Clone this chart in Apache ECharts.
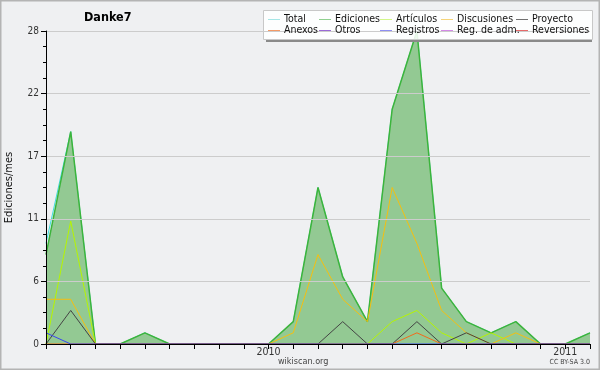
<!DOCTYPE html>
<html><head><meta charset="utf-8">
<script src="https://cdn.jsdelivr.net/npm/echarts@6/dist/echarts.min.js"></script>
<style>html,body{margin:0;padding:0;background:#eff0f2}#c{width:600px;height:370px}</style>
</head><body><div id="c"></div>
<script>
const months = ['2009-04','2009-05','2009-06','2009-07','2009-08','2009-09','2009-10','2009-11','2009-12',
  '2010-01','2010-02','2010-03','2010-04','2010-05','2010-06','2010-07','2010-08','2010-09','2010-10','2010-11','2010-12',
  '2011-01','2011-02'];
const total       = [9,19,0,0,1,0,0,0,0,0,2,14,6,2,21,28,5,2,1,2,0,0,1];
const ediciones   = [8,19,0,0,1,0,0,0,0,0,2,14,6,2,21,28,5,2,1,2,0,0,1];
const articulos   = [0,11,0,0,0,0,0,0,0,0,0,0,0,0,2,3,1,0,1,0,0,0,0];
const discusiones = [4,4,0,0,0,0,0,0,0,0,1,8,4,2,14,9,3,1,0,1,0,0,0];
const proyecto    = [0,3,0,0,0,0,0,0,0,0,0,0,2,0,0,2,0,1,0,0,0,0,0];
const anexos      = [0,0,0,0,0,0,0,0,0,0,0,0,0,0,0,1,0,0,0,0,0,0,0];
const otros       = [];
const registros   = [1,0,0,0,0,0,0,0,0,0,0,0,0,0,0,0,0,0,0,0,0,0,0];
const regAdm      = [];
const reversiones = [];
const yTicks = [0,6,11,17,22,28];

const F = "'DejaVu Sans Condensed', 'DejaVu Sans'";
const names = ['Total','Ediciones','Artículos','Discusiones','Proyecto','Anexos','Otros','Registros','Reg. de adm.','Reversiones'];
const lineColors = ['#3ddede','#3cb43c','#b6f500','#f5bf10','#444444','#f26a1b','#7a35c8','#3a44f0','#c24ee0','#e02a2a'];
const legendColors = ['#a6e6e6','#8fd08f','#d2f68a','#f5d47a','#707070','#f39a66','#9a6ad6','#8e8ef2','#d38ae6','#e66a6a'];
const datas = [total,ediciones,articulos,discusiones,proyecto,anexos,otros,registros,regAdm,reversiones];

const series = names.map((n,i)=>{
  const s = {name:n,type:'line',data:datas[i],symbol:'none',silent:true,
    lineStyle:{color:lineColors[i],width:1},itemStyle:{color:lineColors[i]},z:(i===0?1:(i===1?2:3))};
  if(i===1){ s.areaStyle={color:'#93c993',opacity:1}; s.lineStyle.width=1.5; }
  return s;
});

const cols = [[0,5],[1,6],[2,7],[3,8],[4,9]];
const colLeft = [268,319,380,441,516];
const legends = cols.map((c,k)=>({
  orient:'vertical', left:colLeft[k], top:14, padding:0, itemGap:0,
  itemWidth:12, itemHeight:1, icon:'rect', selectedMode:false, z:20,
  textStyle:{fontFamily:F,fontSize:10.5,color:'#111',lineHeight:10,padding:[0,0,0,-1]},
  data:c.map(i=>({name:names[i],itemStyle:{color:legendColors[i]}}))
}));

const chart = echarts.init(document.getElementById('c'));
chart.setOption({
  backgroundColor:'#eff0f2',
  animation:false,
  title:{text:'Danke7',left:84,top:11,padding:0,textStyle:{fontFamily:F,fontSize:12.5,fontWeight:'bold',color:'#000'}},
  legend:legends,
  grid:{left:46,right:10,top:31,bottom:26,outerBoundsMode:'none',containLabel:false},
  xAxis:{type:'category',data:months,boundaryGap:false,z:10,
    axisLine:{lineStyle:{color:'#000',width:1}},
    axisTick:{show:true,interval:0,length:5,lineStyle:{color:'#000'}},
    axisLabel:{interval:0,margin:3,fontFamily:F,fontSize:10.5,color:'#333',
      formatter:v=>v.endsWith('-01')?v.slice(0,4):''},
    splitLine:{show:false}},
  yAxis:{type:'value',min:0,max:28,interval:5.6,z:10,
    name:'Ediciones/mes',nameLocation:'middle',nameGap:31,
    nameTextStyle:{fontFamily:F,fontSize:11,color:'#111'},
    axisLine:{show:true,lineStyle:{color:'#000'}},
    axisTick:{show:true,length:5,lineStyle:{color:'#000'}},
    minorTick:{show:true,splitNumber:4,length:3,lineStyle:{color:'#000'}},
    axisLabel:{margin:7,fontFamily:F,fontSize:10,color:'#333',
      formatter:v=>String(yTicks.reduce((a,b)=>Math.abs(b-v)<Math.abs(a-v)?b:a))},
    splitLine:{show:true,lineStyle:{color:'#cccccc',width:1}}},
  series:series,
  graphic:[
    {type:'rect',z:5,shape:{x:266,y:39,width:326,height:3},style:{fill:'#8a8a8a'},silent:true},
    {type:'rect',z:6,shape:{x:263.5,y:10.5,width:329,height:29},style:{fill:'rgba(255,255,255,0.88)',stroke:'#c8c8c8',lineWidth:1},silent:true},
    {type:'text',z:6,left:278,top:357,style:{text:'wikiscan.org',fontFamily:F,fontSize:9,fill:'#444'}},
    {type:'text',z:6,right:10,top:359,style:{text:'CC BY-SA 3.0',fontFamily:F,fontSize:7,fill:'#444'}},
    {type:'rect',z:30,shape:{x:0.5,y:0.5,width:599,height:369},style:{fill:'none',stroke:'#b4b4b4',lineWidth:2},silent:true}
  ]
});
</script></body></html>
